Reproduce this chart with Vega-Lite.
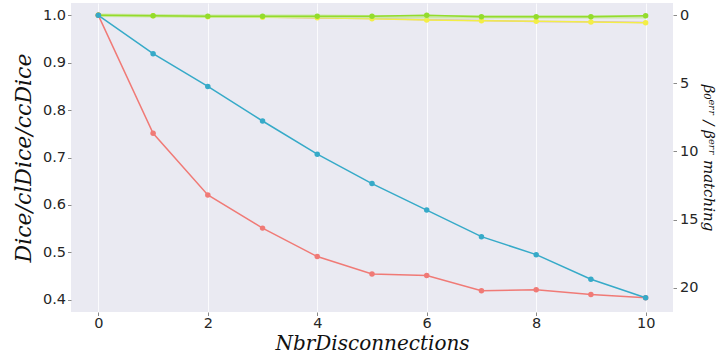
{
  "$schema": "https://vega.github.io/schema/vega-lite/v6.json",
  "width": 602,
  "height": 309,
  "autosize": "none",
  "padding": {"left": 71, "top": 3, "right": 47, "bottom": 41},
  "background": "white",
  "config": {
    "view": {"fill": "#EAEAF2", "stroke": null},
    "axis": {
      "domain": false,
      "grid": true,
      "gridColor": "white",
      "gridWidth": 1,
      "gridOpacity": 0.8,
      "tickColor": "#8a8a8a",
      "tickSize": 3.5,
      "labelFont": "DejaVu Sans",
      "labelFontSize": 14.5,
      "labelColor": "#262626",
      "titleFont": "DejaVu Serif",
      "titleFontStyle": "italic",
      "titleFontWeight": "normal",
      "titleFontSize": 20,
      "titleColor": "#111"
    }
  },
  "datasets": {
    "left": [
      {"x": 0, "v": 1.0, "s": "Dice"}, {"x": 1, "v": 0.751, "s": "Dice"}, {"x": 2, "v": 0.621, "s": "Dice"}, {"x": 3, "v": 0.551, "s": "Dice"}, {"x": 4, "v": 0.491, "s": "Dice"}, {"x": 5, "v": 0.454, "s": "Dice"}, {"x": 6, "v": 0.451, "s": "Dice"}, {"x": 7, "v": 0.419, "s": "Dice"}, {"x": 8, "v": 0.421, "s": "Dice"}, {"x": 9, "v": 0.411, "s": "Dice"}, {"x": 10, "v": 0.404, "s": "Dice"},
      {"x": 0, "v": 1.0, "s": "clDice"}, {"x": 1, "v": 0.919, "s": "clDice"}, {"x": 2, "v": 0.85, "s": "clDice"}, {"x": 3, "v": 0.777, "s": "clDice"}, {"x": 4, "v": 0.707, "s": "clDice"}, {"x": 5, "v": 0.645, "s": "clDice"}, {"x": 6, "v": 0.589, "s": "clDice"}, {"x": 7, "v": 0.533, "s": "clDice"}, {"x": 8, "v": 0.495, "s": "clDice"}, {"x": 9, "v": 0.443, "s": "clDice"}, {"x": 10, "v": 0.404, "s": "clDice"},
      {"x": 0, "v": 1.0, "s": "ccDice"}, {"x": 1, "v": 0.999, "s": "ccDice"}, {"x": 2, "v": 0.998, "s": "ccDice"}, {"x": 3, "v": 0.998, "s": "ccDice"}, {"x": 4, "v": 0.998, "s": "ccDice"}, {"x": 5, "v": 0.998, "s": "ccDice"}, {"x": 6, "v": 1.0, "s": "ccDice"}, {"x": 7, "v": 0.997, "s": "ccDice"}, {"x": 8, "v": 0.997, "s": "ccDice"}, {"x": 9, "v": 0.997, "s": "ccDice"}, {"x": 10, "v": 0.999, "s": "ccDice"},
      {"x": 0, "v": 1.0, "s": "ccDice2"}, {"x": 1, "v": 0.999, "s": "ccDice2"}, {"x": 2, "v": 0.998, "s": "ccDice2"}, {"x": 3, "v": 0.998, "s": "ccDice2"}, {"x": 4, "v": 0.998, "s": "ccDice2"}, {"x": 5, "v": 0.997, "s": "ccDice2"}, {"x": 6, "v": 0.997, "s": "ccDice2"}, {"x": 7, "v": 0.997, "s": "ccDice2"}, {"x": 8, "v": 0.997, "s": "ccDice2"}, {"x": 9, "v": 0.997, "s": "ccDice2"}, {"x": 10, "v": 0.997, "s": "ccDice2"}
    ],
    "right": [
      {"x": 0, "v": 0.0, "s": "b0"}, {"x": 1, "v": 0.05, "s": "b0"}, {"x": 2, "v": 0.12, "s": "b0"}, {"x": 3, "v": 0.17, "s": "b0"}, {"x": 4, "v": 0.2, "s": "b0"}, {"x": 5, "v": 0.27, "s": "b0"}, {"x": 6, "v": 0.37, "s": "b0"}, {"x": 7, "v": 0.42, "s": "b0"}, {"x": 8, "v": 0.46, "s": "b0"}, {"x": 9, "v": 0.51, "s": "b0"}, {"x": 10, "v": 0.56, "s": "b0"},
      {"x": 0, "v": 0.0, "s": "bm"}, {"x": 1, "v": 0.03, "s": "bm"}, {"x": 2, "v": 0.1, "s": "bm"}, {"x": 3, "v": 0.15, "s": "bm"}, {"x": 4, "v": 0.22, "s": "bm"}, {"x": 5, "v": 0.25, "s": "bm"}, {"x": 6, "v": 0.34, "s": "bm"}, {"x": 7, "v": 0.4, "s": "bm"}, {"x": 8, "v": 0.48, "s": "bm"}, {"x": 9, "v": 0.5, "s": "bm"}, {"x": 10, "v": 0.55, "s": "bm"}
    ]
  },
  "encoding": {
    "x": {
      "field": "x", "type": "quantitative",
      "scale": {"domain": [-0.5, 10.5], "nice": false, "zero": false},
      "axis": {"values": [0, 2, 4, 6, 8, 10], "title": "NbrDisconnections", "titleFontSize": 20, "labelPadding": 1, "titlePadding": 3}
    }
  },
  "layer": [
    {
      "data": {"name": "right"},
      "encoding": {
        "y": {
          "field": "v", "type": "quantitative",
          "scale": {"domain": [-0.88, 21.76], "reverse": true, "nice": false, "zero": false},
          "axis": {"orient": "right", "values": [0, 5, 10, 15, 20], "grid": false, "title": "β₀ᵉʳʳ / βᵉʳʳ matching", "titleFontSize": 15, "titlePadding": 3, "labelPadding": 3}
        }
      },
      "layer": [
        {"transform": [{"filter": "datum.s === 'bm'"}], "mark": {"type": "line", "color": "#c57ad0", "strokeWidth": 1.5, "opacity": 0.6}},
        {"transform": [{"filter": "datum.s === 'b0'"}], "mark": {"type": "line", "color": "#f3ee45", "strokeWidth": 1.5, "point": {"filled": true, "size": 30, "color": "#f3ee45"}}}
      ]
    },
    {
      "data": {"name": "left"},
      "encoding": {
        "y": {
          "field": "v", "type": "quantitative",
          "scale": {"domain": [0.374, 1.026], "nice": false, "zero": false},
          "axis": {"orient": "left", "values": [0.4, 0.5, 0.6, 0.7, 0.8, 0.9, 1.0], "format": ".1f", "title": "Dice/clDice/ccDice", "titleFontSize": 22, "titlePadding": 7, "labelPadding": 2}
        }
      },
      "layer": [
        {"transform": [{"filter": "datum.s === 'ccDice2'"}], "mark": {"type": "line", "color": "#c4e79a", "strokeWidth": 3.5, "opacity": 0.8}},
        {"transform": [{"filter": "datum.s === 'ccDice'"}], "mark": {"type": "line", "color": "#93dc2c", "strokeWidth": 1.5, "point": {"filled": true, "size": 30, "color": "#93dc2c"}}},
        {"transform": [{"filter": "datum.s === 'Dice'"}], "mark": {"type": "line", "color": "#f07a76", "strokeWidth": 1.5, "point": {"filled": true, "size": 30, "color": "#f07a76"}}},
        {"transform": [{"filter": "datum.s === 'clDice'"}], "mark": {"type": "line", "color": "#36aac8", "strokeWidth": 1.5, "point": {"filled": true, "size": 30, "color": "#36aac8"}}}
      ]
    }
  ],
  "resolve": {"scale": {"y": "independent"}}
}
